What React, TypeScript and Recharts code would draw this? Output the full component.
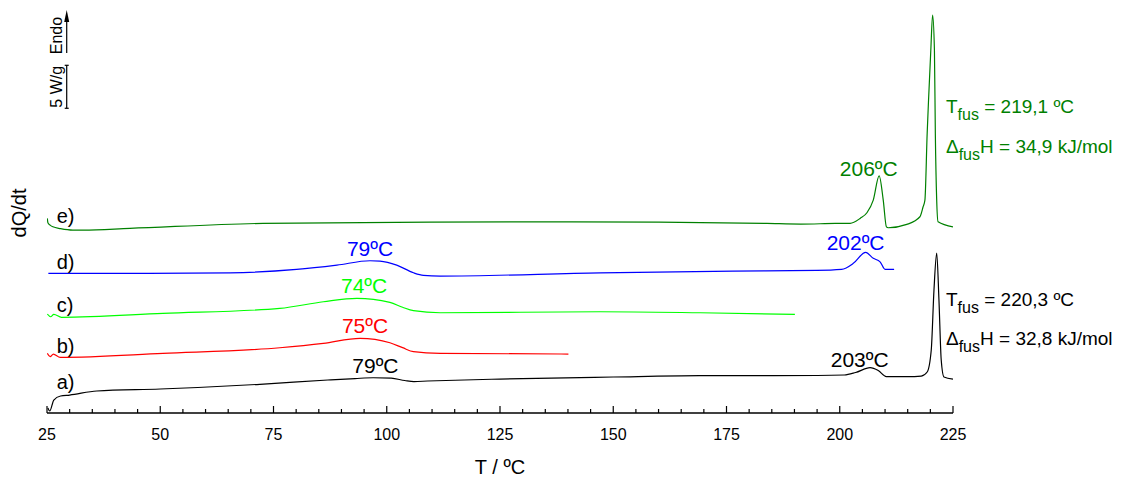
import { LineChart, Line, XAxis, YAxis, ReferenceDot, ReferenceLine } from 'recharts'

const FONT = '"Liberation Sans", Arial, Helvetica, sans-serif'

// a) black
const T_A = [25.2, 25.6, 26.5, 28, 30, 36, 50, 72, 87, 93, 97, 101, 104, 106, 109, 125, 150, 169, 195, 201, 203.5, 206.7, 208.5, 210.3, 215, 218, 219.3, 220.2, 220.8, 221.4, 221.9, 222.4, 223, 225]
const Q_A = [0.58, 0.23, 1.51, 1.98, 2.09, 2.56, 2.79, 3.34, 3.84, 4.01, 4.1, 4.05, 3.78, 3.66, 3.72, 3.95, 4.19, 4.34, 4.36, 4.42, 4.71, 5.27, 4.94, 4.24, 4.24, 4.3, 4.77, 7.33, 14.3, 18.6, 13.14, 6.16, 4.19, 3.95]

// b) red
const T_B = [25.07, 25.7, 26.4, 27.9, 50.6, 76.4, 86, 94.1, 100.7, 103.5, 105.9, 111.8, 140.1]
const Q_B = [6.94, 6.55, 6.86, 6.48, 6.94, 7.59, 8.1, 8.69, 8.17, 7.6, 7.13, 6.94, 6.86]

// c) lime
const T_C = [25.07, 25.8, 26.5, 28.2, 50.6, 76.4, 86, 93.4, 100.7, 103.5, 105.9, 111.8, 147.1, 169.2, 190.1]
const Q_C = [11.51, 11.2, 11.48, 11.13, 11.59, 12.17, 12.94, 13.34, 12.87, 12.3, 11.9, 11.66, 11.78, 11.66, 11.48]

// d) blue
const T_D = [25.3, 47.3, 65.4, 80.1, 89, 96.3, 98.5, 102.2, 105.9, 108.1, 111.8, 147.1, 176.4, 194.9, 200.4, 203, 205.7, 207.4, 208.9, 210, 212]
const Q_D = [16.24, 16.24, 16.31, 16.71, 17.21, 17.71, 17.67, 17.21, 16.31, 16.01, 15.93, 16.31, 16.51, 16.59, 16.71, 17.41, 18.69, 17.99, 17.59, 16.71, 16.71]

// e) dark green
const T_E = [25.07, 25.2, 25.7, 26.3, 28, 30.7, 33, 43.3, 72.7, 109.5, 139.7, 160, 183.9, 191.4, 199, 202.3, 204.5, 206, 207.4, 208.7, 209.6, 210.3, 210.7, 214.8, 217.7, 218.4, 218.8, 219.3, 219.6, 220.1, 220.5, 220.9, 221.1, 221.4, 221.7, 225]
const Q_E = [22.64, 22.13, 21.86, 21.66, 21.45, 21.28, 21.28, 21.48, 22.06, 22.21, 22.24, 22.2, 22.06, 21.98, 22.05, 22.06, 22.64, 23.3, 24.77, 27.59, 24.77, 21.66, 21.55, 21.94, 22.83, 23.99, 24.77, 32.56, 36.4, 42.2, 46.28, 42.2, 32.56, 24.77, 22.24, 21.66]

const MAJOR_TICKS = [25, 50, 75, 100, 125, 150, 175, 200, 225]

const zip = (t: number[], q: number[]) => t.map((v, i) => ({ t: v, q: q[i] }))

const SERIES = [
  { name: 'a', color: '#000000', data: zip(T_A, Q_A) },
  { name: 'b', color: '#ff0000', data: zip(T_B, Q_B) },
  { name: 'c', color: '#00ff00', data: zip(T_C, Q_C) },
  { name: 'd', color: '#0000ff', data: zip(T_D, Q_D) },
  { name: 'e', color: '#008000', data: zip(T_E, Q_E) },
]

// 4 minor ticks between the majors
const ALL_TICKS: number[] = []
MAJOR_TICKS.forEach((m, i) => {
  ALL_TICKS.push(m)
  if (i < MAJOR_TICKS.length - 1) for (let k = 1; k < 5; k++) ALL_TICKS.push(m + k * 5)
})

const AxisTick = (props: any) => {
  const { x, y, payload } = props
  const major = MAJOR_TICKS.includes(payload.value)
  return (
    <g>
      <line x1={x} x2={x} y1={y} y2={y - (major ? 7 : 4)} stroke="#000" strokeWidth={1.2} />
      {major && (
        <text x={x} y={y + 27} textAnchor="middle" fontSize={16} fontFamily={FONT} fill="#000">
          {payload.value}
        </text>
      )}
    </g>
  )
}

// text placed at a data point (y = baseline)
const textAt = (key: string, t: number, q: number, label: string, color: string, anchor = 'middle', size = 21) => (
  <ReferenceDot
    key={key}
    x={t}
    y={q}
    r={0}
    ifOverflow="visible"
    shape={(p: any) => (
      <text x={p.cx} y={p.cy} textAnchor={anchor} fontSize={size} fontFamily={FONT} fill={color}>
        {label}
      </text>
    )}
  />
)

const subAt = (key: string, t: number, q: number, head: string, tail: string, color: string) => (
  <ReferenceDot
    key={key}
    x={t}
    y={q}
    r={0}
    ifOverflow="visible"
    shape={(p: any) => (
      <text x={p.cx} y={p.cy} fontSize={19} fontFamily={FONT} fill={color}>
        <tspan>{head}</tspan>
        <tspan dy={7} fontSize={16}>fus</tspan>
        <tspan dy={-7}>{tail}</tspan>
      </text>
    )}
  />
)

export default function App() {
  return (
    <div style={{ position: 'absolute', left: 0, top: 0, width: 1124, height: 477, background: '#fff' }}>
      <LineChart width={1124} height={477} margin={{ top: 9, right: 171, bottom: 0, left: 0 }}>
        <XAxis
          type="number"
          dataKey="t"
          domain={[25, 225]}
          ticks={ALL_TICKS}
          interval={0}
          tickSize={0}
          tickMargin={0}
          tickLine={false}
          tick={<AxisTick />}
          height={64}
          axisLine={{ stroke: '#000', strokeWidth: 1.5 }}
          allowDataOverflow
          label={{
            value: 'T / ºC',
            content: (p: any) => (
              <text x={p.viewBox.x + p.viewBox.width / 2} y={p.viewBox.y + 61} textAnchor="middle" fontSize={20} fontFamily={FONT} fill="#000">
                T / ºC
              </text>
            ),
          }}
        />
        <YAxis
          type="number"
          domain={[0, 47]}
          width={47}
          axisLine={false}
          tickLine={false}
          tick={false}
          allowDataOverflow
          label={{
            value: 'dQ/dt',
            content: (p: any) => (
              <text
                transform={`translate(${p.viewBox.x + 26},${p.viewBox.y + 204}) rotate(-90)`}
                textAnchor="middle"
                fontSize={20}
                fontFamily={FONT}
                fill="#000"
              >
                dQ/dt
              </text>
            ),
          }}
        />
        {SERIES.map((s) => (
          <Line
            key={s.name}
            data={s.data}
            dataKey="q"
            type="monotone"
            stroke={s.color}
            strokeWidth={1.2}
            dot={false}
            activeDot={false}
            isAnimationActive={false}
          />
        ))}

        {/* 5 W/g scale bar */}
        <ReferenceLine
          segment={[{ x: 29.35, y: 35.45 }, { x: 29.35, y: 40.45 }]}
          ifOverflow="visible"
          shape={(p: any) => (
            <g>
              <line x1={p.x1} y1={p.y1} x2={p.x2} y2={p.y2} stroke="#000" strokeWidth={1.2} />
              <line x1={p.x1 - 2} y1={p.y1} x2={p.x1 + 2} y2={p.y1} stroke="#000" strokeWidth={1.2} />
              <line x1={p.x2 - 2} y1={p.y2} x2={p.x2 + 2} y2={p.y2} stroke="#000" strokeWidth={1.2} />
              <text
                transform={`translate(${p.x1 - 5},${(p.y1 + p.y2) / 2}) rotate(-90)`}
                textAnchor="middle"
                fontSize={16}
                fontFamily={FONT}
                fill="#000"
              >
                5 W/g
              </text>
            </g>
          )}
        />
        {/* Endo arrow */}
        <ReferenceLine
          segment={[{ x: 29.35, y: 41.88 }, { x: 29.35, y: 46.88 }]}
          ifOverflow="visible"
          shape={(p: any) => (
            <g>
              <line x1={p.x1} y1={p.y1} x2={p.x2} y2={p.y2 + 10} stroke="#000" strokeWidth={1.2} />
              <path d={`M${p.x2},${p.y2} L${p.x2 - 2.5},${p.y2 + 12} L${p.x2 + 2.5},${p.y2 + 12} Z`} fill="#000" />
              <text
                transform={`translate(${p.x1 - 4.5},${p.y1 - 17.5}) rotate(-90)`}
                textAnchor="middle"
                fontSize={16}
                fontFamily={FONT}
                fill="#000"
              >
                Endo
              </text>
            </g>
          )}
        />

        {textAt('la', 27.14, 2.85, 'a)', '#000', 'start', 20)}
        {textAt('lb', 27.14, 6.98, 'b)', '#000', 'start', 20)}
        {textAt('lc', 27.14, 11.75, 'c)', '#000', 'start', 20)}
        {textAt('ld', 27.14, 16.75, 'd)', '#000', 'start', 20)}
        {textAt('le', 27.14, 22.05, 'e)', '#000', 'start', 20)}

        {textAt('pa1', 97.5, 4.62, '79ºC', '#000')}
        {textAt('pb1', 95.2, 9.34, '75ºC', '#ff0000')}
        {textAt('pc1', 95.0, 13.92, '74ºC', '#00ff00')}
        {textAt('pd1', 96.3, 18.3, '79ºC', '#0000ff')}
        {textAt('pa2', 204.4, 5.39, '203ºC', '#000')}
        {textAt('pd2', 203.5, 18.96, '202ºC', '#0000ff')}
        {textAt('pe2', 206.4, 27.57, '206ºC', '#008000')}

        {subAt('ge1', 223.45, 34.9, 'T', ' = 219,1 ºC', '#008000')}
        {subAt('ge2', 223.45, 30.25, 'Δ', 'H = 34,9 kJ/mol', '#008000')}
        {subAt('ka1', 223.45, 12.45, 'T', ' = 220,3 ºC', '#000')}
        {subAt('ka2', 223.45, 7.91, 'Δ', 'H = 32,8 kJ/mol', '#000')}
      </LineChart>
    </div>
  )
}
